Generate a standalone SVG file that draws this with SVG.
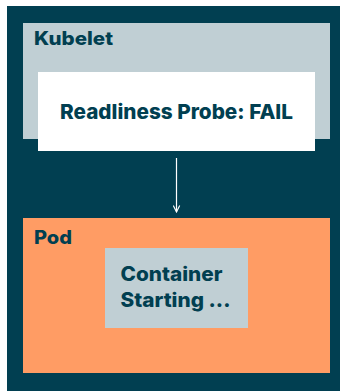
<svg xmlns="http://www.w3.org/2000/svg" width="340" height="391" viewBox="0 0 340 391">
  <style>
    .lbl { font-family: Inter, "Open Sans", "Liberation Sans", sans-serif; font-weight: 800; fill: #013f51; }
    .conn { stroke: #ffffff; stroke-width: 1.2; fill: none; }
  </style>
  <defs>
    <marker id="head" viewBox="0 0 10 10" refX="9" refY="5" markerWidth="8" markerHeight="8" orient="auto" markerUnits="userSpaceOnUse">
      <path d="M1,1 L9,5 L1,9" fill="none" stroke="#ffffff" stroke-width="1.4"/>
    </marker>
  </defs>
  <rect x="0" y="0" width="340" height="391" fill="#ffffff"/>
  <g id="frame">
    <rect x="7" y="6" width="333" height="385" fill="#013f51"/>
  </g>
  <g id="kubelet">
    <rect x="23" y="23" width="307" height="116" fill="#c0cfd4"/>
    <text class="lbl" x="34" y="45" font-size="18.5" textLength="79" lengthAdjust="spacingAndGlyphs">Kubelet</text>
  </g>
  <g id="probe">
    <rect x="38" y="72" width="277" height="79" fill="#ffffff"/>
    <text class="lbl" x="60" y="119" font-size="20.5" textLength="233" lengthAdjust="spacingAndGlyphs">Readliness Probe: FAIL</text>
  </g>
  <g id="connectors">
    <line class="conn" x1="176.5" y1="158" x2="176.5" y2="212" marker-end="url(#head)"/>
  </g>
  <g id="pod">
    <rect x="23" y="218" width="307" height="155" fill="#ff9c64"/>
    <text class="lbl" x="34" y="244" font-size="18.5" textLength="38" lengthAdjust="spacingAndGlyphs">Pod</text>
  </g>
  <g id="container">
    <rect x="105" y="248" width="143" height="80" fill="#c0cfd4"/>
    <text class="lbl" x="120.5" y="281" font-size="20" textLength="102" lengthAdjust="spacingAndGlyphs">Container</text>
    <text class="lbl" x="120.5" y="306.5" font-size="20" textLength="110" lengthAdjust="spacingAndGlyphs">Starting ...</text>
  </g>
</svg>
